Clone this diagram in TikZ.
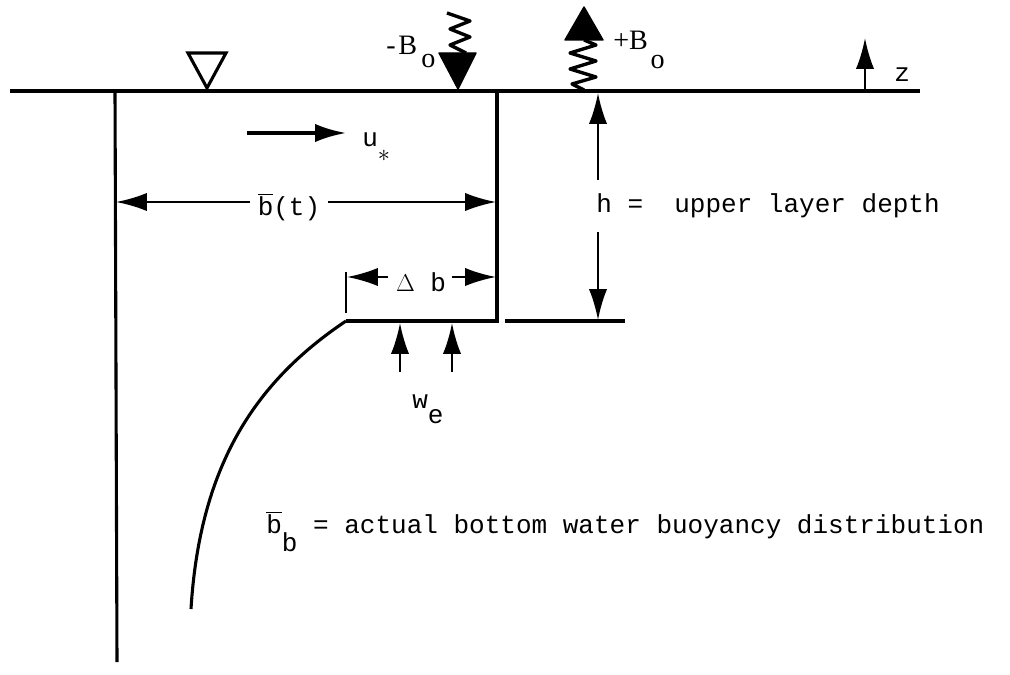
\documentclass[tikz,border=0pt]{standalone}
\usepackage{fontspec}
\setmainfont{Liberation Mono}
\newfontfamily\serifB{Liberation Serif}
\usetikzlibrary{arrows.meta, positioning}

\begin{document}
\begin{tikzpicture}[x=0.025cm, y=-0.025cm, font=\fontsize{18.5}{22}\selectfont]
    % Define styles
    \tikzset{
        wall/.style={line width=2.2pt},
        dimline/.style={line width=1.6pt, -{Latex[length=22pt, width=13pt]}},
        spring/.style={line width=2.4pt, line join=round},
        fluxhead/.style={fill=black, draw, line width=1pt, line join=round},
        lbl/.style={inner sep=0pt, anchor=base west},
        Blbl/.style={lbl, font=\serifB\fontsize{20}{22}\selectfont}
    }
    \useasboundingbox (0,0) rectangle (1010,675);

    % Coordinates
    \coordinate (sfcL) at (10,91);
    \coordinate (sfcR) at (920,91);
    \coordinate (wallTop) at (115,91);
    \coordinate (wallBot) at (117,662);
    \coordinate (mixTop) at (497,91);
    \coordinate (mixBot) at (497,321);
    \coordinate (stepL) at (346,321);
    \coordinate (baseR) at (505,321);
    \coordinate (baseEnd) at (625,321);
    \coordinate (curveEnd) at (191,609);

    % Water column
    \draw[wall] (sfcL) -- (sfcR);
    \draw[wall] (wallTop) -- (wallBot);
    \draw[wall] (mixTop) -- (mixBot) -- (stepL);
    \draw[wall] (baseR) -- (baseEnd);
    \draw[wall] (stepL) .. controls (258,380) and (200,462) .. (curveEnd);

    % Water level mark
    \draw[wall, line join=miter] (188,53) -- (226,53) -- (207,88) -- cycle;

    % Surface fluxes
    \draw[spring] (447,13) -- (470,21) -- (450,29) -- (470,37) -- (450,45) -- (466,53);
    \draw[fluxhead] (439,53) -- (476,53) -- (458,89) -- cycle;
    \draw[fluxhead] (565,40) -- (603,40) -- (584,7) -- cycle;
    \draw[spring] (584,40) -- (596,45) -- (570,53) -- (596,61) -- (570,69) -- (596,77) -- (572,84) -- (584,90);
    \node[Blbl] (minusB) at (386,55) {-\hspace{2pt}B\hspace{3pt}\raisebox{-9pt}{o}};
    \node[Blbl] (plusB) at (613,50) {+B\hspace{2pt}\raisebox{-13pt}{o}};

    % Vertical axis
    \coordinate (zBase) at (865,90);
    \coordinate (zTip) at (865,38);
    \draw[dimline] (zBase) -- (zTip);
    \node[lbl] (zlabel) at (894,82) {z};

    % Wind stress
    \coordinate (uTail) at (247,133);
    \coordinate (uHead) at (346,133);
    \draw[dimline, line width=2.4pt] (uTail) -- (uHead);
    \node[lbl] (ustar) at (362,147) {u\raisebox{-10pt}{$\ast$}};

    % Layer width
    \node (btlabel) at (289,207) {$\overline{\mbox{b}}$(t)};
    \coordinate (btL) at (250,202);
    \coordinate (btR) at (328,202);
    \coordinate (btWallL) at (116,202);
    \coordinate (btWallR) at (496,202);
    \draw[dimline] (btL) -- (btWallL);
    \draw[dimline] (btR) -- (btWallR);

    % Step width
    \coordinate (tickTop) at (346,272);
    \coordinate (tickBot) at (346,313);
    \draw[line width=1.6pt] (tickTop) -- (tickBot);
    \node (dblabel) at (421,282) {$\Delta$ b};
    \coordinate (dbL) at (388,277);
    \coordinate (dbR) at (452,277);
    \draw[dimline] (dbL) -- (347,277);
    \draw[dimline] (dbR) -- (496,277);

    % Layer depth
    \coordinate (hTop) at (598,93);
    \coordinate (hUp) at (598,180);
    \coordinate (hDown) at (598,232);
    \coordinate (hBot) at (598,320);
    \draw[dimline] (hUp) -- (hTop);
    \draw[dimline] (hDown) -- (hBot);
    \node[lbl] (hlabel) at (596,213) {h = \ upper layer depth};

    % Entrainment
    \coordinate (we1) at (400,372);
    \coordinate (we2) at (452,372);
    \draw[dimline] (we1) -- (400,323);
    \draw[dimline] (we2) -- (452,323);
    \node[lbl] (welabel) at (412,408) {w\raisebox{-11pt}{e}};

    % Bottom buoyancy
    \node[lbl] (bblabel) at (266,533) {$\overline{\mbox{b}}$\raisebox{-13pt}{b} = actual bottom water buoyancy distribution};
\end{tikzpicture}
\end{document}
